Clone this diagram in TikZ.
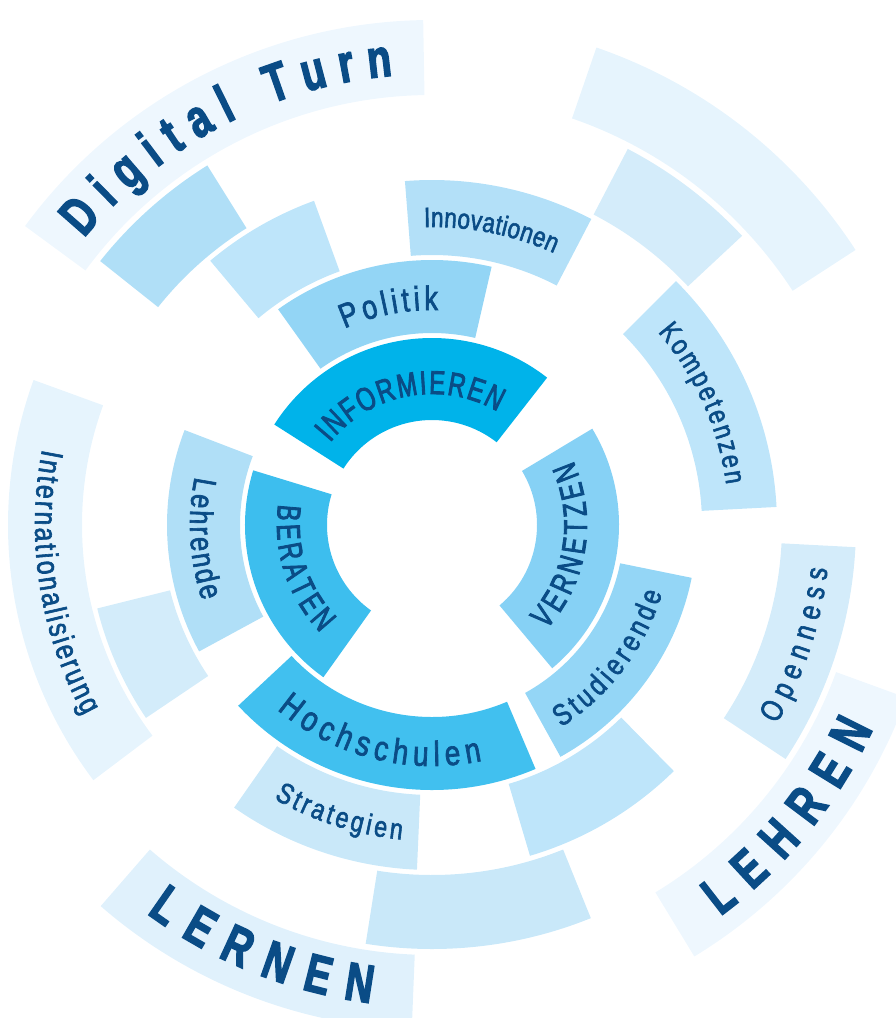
\documentclass[tikz,border=0pt]{standalone}
\usepackage{fontspec}
\usetikzlibrary{decorations.text}
\newfontfamily\capf[FakeStretch=0.72,FakeBold=2.6]{Liberation Sans}
\newfontfamily\labf[FakeStretch=0.8,FakeBold=2]{Liberation Sans}
\newfontfamily\bigf[FakeStretch=0.72,FakeBold=2.5]{Liberation Sans Bold}
\definecolor{txt}{HTML}{0A4C86}
\definecolor{cINF}{HTML}{00B3EA}
\definecolor{cBER}{HTML}{3DBEEE}
\definecolor{cVER}{HTML}{86D1F5}
\definecolor{cHOC}{HTML}{41C0EF}
\definecolor{cPOL}{HTML}{93D5F5}
\definecolor{cSTU}{HTML}{94D6F6}
\definecolor{cLEH}{HTML}{B0DFF7}
\definecolor{cINN}{HTML}{B3E0F8}
\definecolor{cKOM}{HTML}{BEE5FA}
\definecolor{cSTR}{HTML}{C9E8F9}
\definecolor{cPALE}{HTML}{D3ECFA}
\definecolor{cOPN}{HTML}{D4ECFA}
\definecolor{cINT}{HTML}{E6F4FD}
\definecolor{cDIG}{HTML}{EEF7FE}
\definecolor{cLRN}{HTML}{E0F1FC}
% r1 r2 a1 a2 colour
\newcommand\ringseg[5]{\fill[#5] (#3:#2) arc[start angle=#3,end angle=#4,radius=#2] -- (#4:#1) arc[start angle=#4,end angle=#3,radius=#1] -- cycle;}
% radius a1 a2 text format
\newcommand\arctext[5]{\path[decorate,decoration={text along path,text align=fit to path,text color=txt,text={|#5|#4}}] (#2:#1) arc[start angle=#2,end angle=#3,radius=#1];}
\begin{document}
\begin{tikzpicture}[x=1pt,y=1pt]
\useasboundingbox (0,0) rectangle (896,-1018);
\clip (0,0) rectangle (896,-1018);
\begin{scope}[shift={(432,-525)}]
\coordinate (C) at (0,0);
% ring 1
\ringseg{105}{187}{52}{147.5}{cINF}
\ringseg{105}{187}{-50}{31}{cVER}
\ringseg{105}{187}{163}{234.5}{cBER}
% ring 2
\ringseg{192}{265}{77}{125.5}{cPOL}
\ringseg{192}{265}{223}{293}{cHOC}
\ringseg{192}{265}{-61}{-11.5}{cSTU}
\ringseg{192}{265}{159}{208.5}{cLEH}
% ring 3
\ringseg{270}{345}{110}{130}{cKOM}
\ringseg{270}{345}{62.5}{94.5}{cINN}
\ringseg{270}{345}{3}{45}{cKOM}
\ringseg{270}{345}{-73.5}{-45.5}{cKOM}
\ringseg{270}{345}{235}{267.5}{cSTR}
\ringseg{270}{345}{194}{214}{cPALE}
% ring 4
\ringseg{350}{424}{122}{141.5}{cLEH}
\ringseg{350}{424}{43}{62.5}{cOPN}
\ringseg{350}{424}{-33.5}{-3}{cOPN}
\ringseg{350}{424}{261}{292}{cSTR}
\ringseg{350}{424}{160}{217}{cINT}
% ring 5
\ringseg{430}{505}{91}{143.7}{cDIG}
\ringseg{430}{505}{33}{71}{cINT}
\ringseg{430}{505}{-58.7}{-20}{cDIG}
\ringseg{430}{505}{229}{267.7}{cLRN}
% texts
\arctext{131}{141}{60}{INFORMIEREN}{\capf\fontsize{33}{33}\selectfont}
\arctext{155}{-42.5}{24.5}{VERNETZEN}{\capf\fontsize{33}{33}\selectfont}
\arctext{155}{172.3}{224}{BERATEN}{\capf\fontsize{33}{33}\selectfont}
\arctext{241}{230}{282}{Hochschulen}{\labf\fontsize{35}{35}\selectfont}
\arctext{215}{114}{88.4}{Politik}{\labf\fontsize{34}{34}\selectfont}
\arctext{240}{-57.4}{-16.5}{Studierende}{\labf\fontsize{30}{30}\selectfont}
\arctext{242}{168.5}{198.3}{Lehrende}{\labf\fontsize{32}{32}\selectfont}
\arctext{298}{91.5}{65.8}{Innovationen}{\labf\fontsize{28}{28}\selectfont}
\arctext{297}{40.5}{7.8}{Kompetenzen}{\labf\fontsize{29}{29}\selectfont}
\arctext{316}{240}{264.5}{Strategien}{\labf\fontsize{29}{29}\selectfont}
\arctext{398}{-30}{-6.3}{Openness}{\labf\fontsize{31}{31}\selectfont}
\arctext{397}{169}{208.7}{Internationalisierung}{\labf\fontsize{31}{31}\selectfont}
\arctext{451}{140.5}{95}{Digital Turn}{\bigf\fontsize{54}{54}\selectfont}
\arctext{486}{-53.6}{-24.8}{LEHREN}{\bigf\fontsize{54}{54}\selectfont}
\arctext{482}{233.7}{262.7}{LERNEN}{\bigf\fontsize{54}{54}\selectfont}
\end{scope}
\end{tikzpicture}
\end{document}
